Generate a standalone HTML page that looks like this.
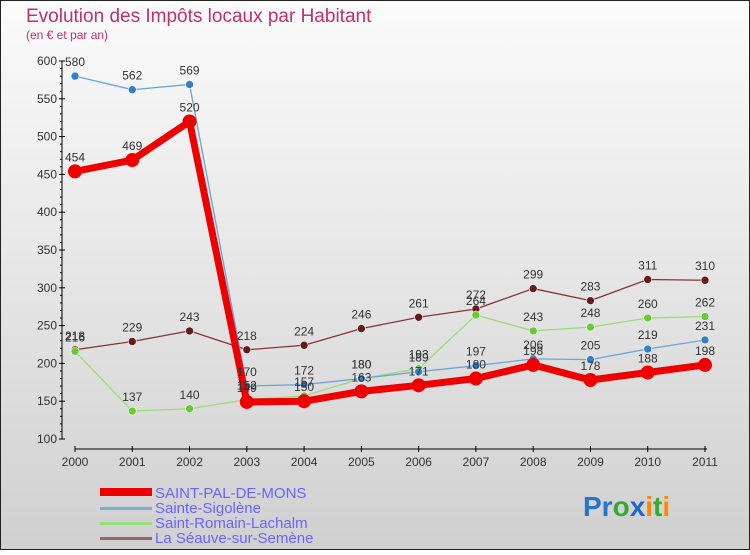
<!DOCTYPE html>
<html><head><meta charset="utf-8"><style>
body{margin:0;width:750px;height:550px;overflow:hidden;font-family:"Liberation Sans",sans-serif}
</style></head><body>
<svg width="750" height="550" xmlns="http://www.w3.org/2000/svg">
<defs><linearGradient id="bg" x1="0" y1="0" x2="0" y2="1"><stop offset="0" stop-color="#fbfbfb"/><stop offset="1" stop-color="#d0d0d0"/></linearGradient></defs>
<rect x="0.5" y="0.5" width="749" height="549" fill="url(#bg)" stroke="#222"/>
<text x="26" y="22" font-size="19" fill="#c0306a">Evolution des Impôts locaux par Habitant</text>
<text x="26" y="39" font-size="12" fill="#c0306a">(en € et par an)</text>
<g id="axes"></g><g id="series"></g><g id="labels"></g>
<g font-size="15" fill="#6666ff">
<rect x="100" y="488" width="52" height="8" fill="#ee0000"/><text x="155" y="498">SAINT-PAL-DE-MONS</text>
<rect x="100" y="507" width="52" height="3" fill="#7aaed0"/><text x="155" y="513">Sainte-Sigolène</text>
<rect x="100" y="522" width="52" height="3" fill="#99dd77"/><text x="155" y="528">Saint-Romain-Lachalm</text>
<rect x="100" y="537" width="52" height="3" fill="#996666"/><text x="155" y="543">La Séauve-sur-Semène</text>
</g>
<g font-size="28" font-weight="bold">
<text x="583" y="516"><tspan fill="#2277cc">Pr</tspan><tspan fill="#33aa33">o</tspan><tspan fill="#2266cc">x</tspan><tspan fill="#ff8800">i</tspan><tspan fill="#33aa33">t</tspan><tspan fill="#ff8800">i</tspan></text>
</g>
</svg>
<script>
const years=["2000","2001","2002","2003","2004","2005","2006","2007","2008","2009","2010","2011"];
const yTicks=[100,150,200,250,300,350,400,450,500,550,600];
const stPal=[454,469,520,149,150,163,171,180,198,178,188,198];
const steSig=[580,562,569,170,172,180,189,197,206,205,219,231];
const stRom=[216,137,140,152,157,180,193,264,243,248,260,262];
const seauve=[218,229,243,218,224,246,261,272,299,283,311,310];
const NS="http://www.w3.org/2000/svg";
const X=i=>75+i*(630/11);
const Y=v=>439-(v-100)*(378/500);
function mk(tag,attrs,parent,text){const e=document.createElementNS(NS,tag);for(const k in attrs)e.setAttribute(k,attrs[k]);if(text!==undefined)e.textContent=text;parent.appendChild(e);return e;}
const ax=document.getElementById('axes');
let yl=mk('line',{x1:62,y1:61,x2:62,y2:439,stroke:'#000'},ax);

yTicks.forEach(t=>{mk('line',{x1:59,x2:65,y1:Y(t),y2:Y(t),stroke:'#000'},ax);
 const tx=mk('text',{x:57,y:Y(t)+4,'font-size':12,'text-anchor':'end',fill:'#333'},ax,t);
 });
for(let v=110;v<600;v+=10){if(v%50)mk('line',{x1:60,x2:62,y1:Y(v),y2:Y(v),stroke:'#000'},ax);}
let xl=mk('line',{x1:75,y1:449,x2:707,y2:449,stroke:'#000'},ax);

years.forEach((y,i)=>{mk('line',{x1:X(i),x2:X(i),y1:446,y2:452,stroke:'#000'},ax);
 const tx=mk('text',{x:X(i),y:466,'font-size':12,'text-anchor':'middle',fill:'#333'},ax,y);
 });
const sg=document.getElementById('series'),lg=document.getElementById('labels');
function draw(data,name,color,dot,w,r){
 const g=mk('g',{},sg);
 mk('polyline',{points:data.map((v,i)=>X(i)+','+Y(v)).join(' '),fill:'none',stroke:color,'stroke-width':w,'stroke-linejoin':'round'},g);
 data.forEach((v,i)=>{const c=mk('circle',{cx:X(i),cy:Y(v),r:r,fill:dot,stroke:'#fff','stroke-width':r>4?0:0.6},g);
  
  const t=mk('text',{x:X(i),y:Y(v)-10,'font-size':12,'text-anchor':'middle',fill:'#333'},lg,v);
  });
}
draw(seauve,'la-seauve-line','#883333','#661a1a',1.3,4);
draw(stRom,'saint-romain-line','#99dd77','#66cc33',1.3,4);
draw(steSig,'sainte-sigolene-line','#6aa5d5','#3380c8',1.3,4);
draw(stPal,'saint-pal-line','#ee0000','#ee0000',7,7);
</script>
</body></html>
